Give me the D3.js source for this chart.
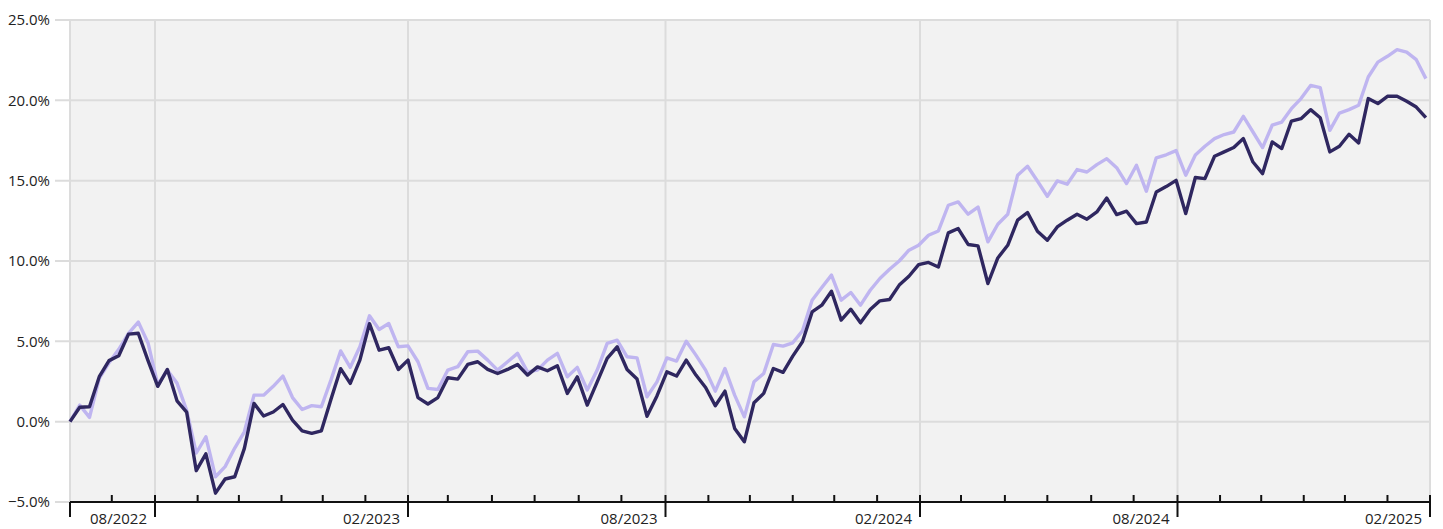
<!DOCTYPE html>
<html>
<head>
<meta charset="utf-8">
<script src="https://cdn.jsdelivr.net/npm/d3@7/dist/d3.min.js"></script>
<style>
  html, body { margin: 0; padding: 0; background: #ffffff; }
  svg { display: block; }
  text { font-family: "Open Sans", "Noto Sans", sans-serif; font-size: 15px; fill: #222; }
  .xlab { font-size: 15px; }
</style>
</head>
<body>
<svg id="chart" width="1443" height="529"></svg>
<script>
// ---- data ----
const startDate = "2022-06-01";
const weekStepDays = 7;

const portfolio = [
  0.0, 0.9, 0.93, 2.8, 3.8, 4.1, 5.45, 5.5, 3.8, 2.2,
  3.25, 1.3, 0.6, -3.05, -2.0, -4.45, -3.57, -3.43, -1.66, 1.14,
  0.35, 0.6, 1.07, 0.1, -0.57, -0.73, -0.57, 1.4, 3.3, 2.38,
  3.83, 6.1, 4.45, 4.6, 3.25, 3.83, 1.5, 1.1, 1.5, 2.73,
  2.65, 3.56, 3.73, 3.25, 3.0, 3.25, 3.56, 2.9, 3.41, 3.17,
  3.48, 1.76, 2.79, 1.03, 2.48, 3.94, 4.66, 3.25, 2.65, 0.33,
  1.6, 3.1, 2.84, 3.83, 2.9, 2.13, 0.99, 1.9, -0.42, -1.25,
  1.18, 1.76, 3.31, 3.07, 4.08, 4.97, 6.83, 7.25, 8.12, 6.32,
  7.0, 6.15, 6.98, 7.52, 7.6, 8.5, 9.05, 9.77, 9.91, 9.63,
  11.75, 12.02, 11.03, 10.94, 8.6, 10.19, 10.98, 12.54, 13.02, 11.85,
  11.29, 12.12, 12.54, 12.91, 12.6, 13.05, 13.92, 12.89, 13.1, 12.33,
  12.43, 14.3, 14.63, 15.02, 12.95, 15.2, 15.13, 16.52, 16.79, 17.06,
  17.62, 16.16, 15.44, 17.41, 17.0, 18.71, 18.86, 19.42, 18.92, 16.79,
  17.14, 17.89, 17.35, 20.11, 19.8, 20.25, 20.25, 19.94, 19.58, 18.92
];

const benchmark = [
  0.0, 1.03, 0.27, 2.7, 3.66, 4.5, 5.5, 6.2, 4.9, 2.3,
  3.2, 2.4, 0.7, -1.95, -0.94, -3.43, -2.8, -1.64, -0.63, 1.65,
  1.65, 2.2, 2.84, 1.5, 0.76, 1.0, 0.93, 2.6, 4.4, 3.38,
  4.66, 6.59, 5.74, 6.11, 4.66, 4.72, 3.73, 2.07, 2.0, 3.21,
  3.42, 4.35, 4.39, 3.83, 3.21, 3.73, 4.25, 3.1, 3.21, 3.83,
  4.25, 2.79, 3.38, 1.97, 3.21, 4.87, 5.07, 4.04, 3.97, 1.55,
  2.48, 3.97, 3.77, 5.01, 4.14, 3.21, 1.9, 3.31, 1.65, 0.3,
  2.48, 3.0, 4.8, 4.7, 4.91, 5.65, 7.56, 8.35, 9.12, 7.56,
  8.04, 7.25, 8.18, 8.91, 9.49, 10.0, 10.67, 10.98, 11.6, 11.87,
  13.47, 13.68, 12.91, 13.36, 11.19, 12.29, 12.91, 15.34, 15.9, 14.98,
  14.03, 14.98, 14.78, 15.69, 15.54, 16.0, 16.37, 15.81, 14.82, 15.96,
  14.34, 16.42, 16.61, 16.87, 15.34, 16.6, 17.14, 17.62, 17.87, 18.03,
  19.0, 18.03, 17.06, 18.45, 18.65, 19.48, 20.11, 20.93, 20.79, 18.13,
  19.21, 19.42, 19.69, 21.45, 22.38, 22.74, 23.15, 23.0, 22.53, 21.35
];

const yTicks = [-5, 0, 5, 10, 15, 20, 25];
// axis breakpoints: start of axis, then each labelled month (Feb / Aug)
const axisBreaks = ["2022-06-01", "2022-08-01", "2023-02-01", "2023-08-01", "2024-02-01", "2024-08-01", "2025-02-01"];
const labelMonths = [1, 7]; // February and August

// ---- layout ----
const W = 1443, H = 529;
const plotLeft = 70, plotRight = 1430, plotTop = 20, plotBottom = 502;
const breakPx = [70, 155, 408, 665.5, 920, 1177.5, 1430];
const parse = d3.utcParse("%Y-%m-%d");
const t0 = parse(startDate);
const dates = portfolio.map((_, i) => d3.utcDay.offset(t0, i * weekStepDays));
const axisStart = parse(axisBreaks[0]);
const axisEnd = parse(axisBreaks[axisBreaks.length - 1]);

const x = d3.scaleUtc()
  .domain(axisBreaks.map(parse))
  .range(breakPx);
const y = d3.scaleLinear()
  .domain([-5, 25])
  .range([plotBottom, plotTop]);

const svg = d3.select("#chart");

// plot background
svg.append("rect")
  .attr("x", plotLeft).attr("y", plotTop)
  .attr("width", plotRight - plotLeft)
  .attr("height", plotBottom - plotTop)
  .attr("fill", "#f2f2f2");

// month ticks
const months = d3.utcMonth.range(axisStart, d3.utcDay.offset(axisEnd, 1));
const majorMonths = months.filter(d => labelMonths.includes(d.getUTCMonth()));
const minorMonths = months.filter(d => !labelMonths.includes(d.getUTCMonth()) && +d !== +axisStart);

// horizontal grid
svg.append("g").selectAll("line").data(yTicks).join("line")
  .attr("x1", 55).attr("x2", plotRight)
  .attr("y1", d => y(d)).attr("y2", d => y(d))
  .attr("stroke", "#dcdcdc").attr("stroke-width", 2);

// vertical grid
svg.append("g").selectAll("line").data([axisStart, ...majorMonths]).join("line")
  .attr("x1", d => x(d)).attr("x2", d => x(d))
  .attr("y1", plotTop).attr("y2", plotBottom)
  .attr("stroke", "#dcdcdc").attr("stroke-width", 2);

// y labels
svg.append("g").selectAll("text").data(yTicks).join("text")
  .attr("x", 50).attr("y", d => y(d)).attr("dy", "0.35em")
  .attr("text-anchor", "end")
  .text(d => d3.format(".1f")(d) + "%");

// lines
const line = d3.line().x((d, i) => x(dates[i])).y(d => y(d));
svg.append("path").datum(benchmark)
  .attr("d", line).attr("fill", "none")
  .attr("stroke", "#bfb5f0").attr("stroke-width", 3.4).attr("stroke-linejoin", "round");
svg.append("path").datum(portfolio)
  .attr("d", line).attr("fill", "none")
  .attr("stroke", "#2f2760").attr("stroke-width", 3.4).attr("stroke-linejoin", "round");

// x axis line
const axisY = plotBottom;
svg.append("line")
  .attr("x1", plotLeft).attr("x2", plotRight)
  .attr("y1", axisY).attr("y2", axisY)
  .attr("stroke", "#111").attr("stroke-width", 2);

// minor ticks
svg.append("g").selectAll("line").data(minorMonths).join("line")
  .attr("x1", d => x(d)).attr("x2", d => x(d))
  .attr("y1", axisY - 7).attr("y2", axisY)
  .attr("stroke", "#111").attr("stroke-width", 2);

// major ticks
svg.append("g").selectAll("line").data(majorMonths).join("line")
  .attr("x1", d => x(d)).attr("x2", d => x(d))
  .attr("y1", axisY - 7).attr("y2", axisY + 15)
  .attr("stroke", "#111").attr("stroke-width", 2);
svg.append("line")
  .attr("x1", x(axisStart)).attr("x2", x(axisStart))
  .attr("y1", axisY).attr("y2", axisY + 15)
  .attr("stroke", "#111").attr("stroke-width", 2);

// x labels
svg.append("g").selectAll("text").data(majorMonths).join("text")
  .attr("class", "xlab")
  .attr("x", d => x(d) - 8).attr("y", 524)
  .attr("text-anchor", "end")
  .text(d => d3.utcFormat("%m/%Y")(d));
</script>
</body>
</html>
